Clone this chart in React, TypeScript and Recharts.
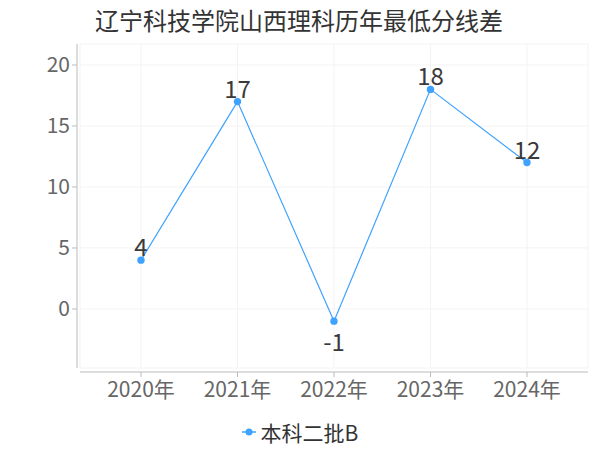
import { LineChart, Line, XAxis, YAxis, CartesianGrid, LabelList } from 'recharts';

const years = ['2020年', '2021年', '2022年', '2023年', '2024年'];
const scoreDiff = [4, 17, -1, 18, 12];
const yTicks = [0, 5, 10, 15, 20];
const seriesName = '本科二批B';
const title = '辽宁科技学院山西理科历年最低分线差';

const data = years.map((year, i) => ({ year, value: scoreDiff[i] }));

const FONT = '"Noto Sans CJK SC", "Noto Sans", sans-serif';
const LINE_COLOR = '#3fa2ff';

const ValueLabel = (props: any) => {
  const { x, y, value } = props;
  const below = value < 0;
  return (
    <text
      x={x}
      y={below ? y + 30 : y - 4}
      textAnchor="middle"
      fontSize={24}
      fill="#3a3a3a"
      fontFamily={FONT}
    >
      {value}
    </text>
  );
};

export default function App() {
  return (
    <div style={{ position: 'absolute', left: 0, top: 0, width: 600, height: 450, background: '#fff', fontFamily: FONT }}>
      <div
        style={{
          position: 'absolute',
          top: 4,
          left: 0,
          width: 598,
          textAlign: 'center',
          fontSize: 24,
          lineHeight: '32px',
          color: '#333',
        }}
      >
        {title}
      </div>
      <LineChart width={600} height={450} data={data} margin={{ top: 44, right: 12, bottom: 0, left: 0 }}>
        <CartesianGrid stroke="#f3f3f3" />
        <XAxis
          dataKey="year"
          padding={{ left: 61, right: 61 }}
          height={82}
          tickSize={5}
          tickMargin={9}
          axisLine={{ stroke: '#bbb', transform: 'translate(0,4)' }}
          tickLine={{ stroke: '#bbb', transform: 'translate(0,4)' }}
          tick={{ fill: '#666', fontSize: 21, fontFamily: FONT }}
        />
        <YAxis
          width={80}
          domain={[-4.84, 21.72]}
          ticks={yTicks}
          allowDataOverflow
          tickSize={5}
          tickMargin={5}
          axisLine={{ stroke: '#bbb', transform: 'translate(-3,0)' }}
          tickLine={{ stroke: '#bbb', transform: 'translate(-3,0)' }}
          tick={{ fill: '#666', fontSize: 21, fontFamily: FONT }}
        />
        <Line
          type="linear"
          dataKey="value"
          name={seriesName}
          stroke={LINE_COLOR}
          strokeWidth={1.2}
          dot={{ r: 3.7, fill: LINE_COLOR, stroke: 'none' }}
          activeDot={false}
          isAnimationActive={false}
        >
          <LabelList dataKey="value" content={<ValueLabel />} />
        </Line>
      </LineChart>
      <div
        style={{
          position: 'absolute',
          top: 418,
          left: 0,
          width: 600,
          display: 'flex',
          justifyContent: 'center',
          alignItems: 'center',
          fontSize: 21,
          lineHeight: '28px',
          color: '#333',
        }}
      >
        <svg width={16} height={14} style={{ marginRight: 3 }}>
          <line x1={0} y1={7} x2={14} y2={7} stroke={LINE_COLOR} strokeWidth={1.5} />
          <circle cx={7} cy={7} r={3.5} fill={LINE_COLOR} />
        </svg>
        <span>{seriesName}</span>
      </div>
    </div>
  );
}
